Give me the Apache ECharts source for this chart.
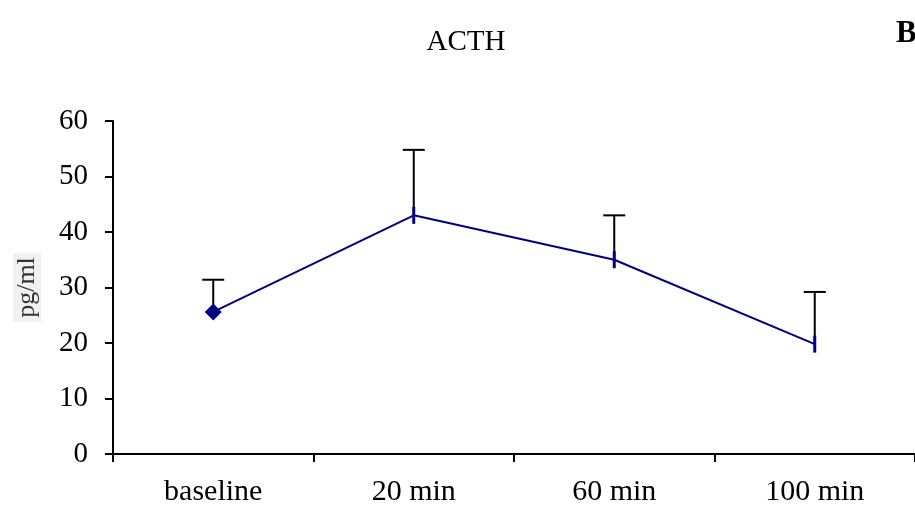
<!DOCTYPE html>
<html>
<head>
<meta charset="utf-8">
<script src="https://cdn.jsdelivr.net/npm/echarts@6/dist/echarts.min.js"></script>
<style>
  html, body { margin: 0; padding: 0; background: #fff; }
  #chart { width: 915px; height: 510px; }
</style>
</head>
<body>
<div id="chart"></div>
<script>
// data
const categories = ['baseline', '20 min', '60 min', '100 min']
const acthMean = [25.6, 43, 35, 19.8]
const acthErrUp = [5.8, 11.8, 8, 9.4] // upper error bar length
const yTicks = { min: 0, max: 60, interval: 10 }

const serif = '"Liberation Serif", "DejaVu Serif", serif'
const navy = '#000080'

const chart = echarts.init(document.getElementById('chart'))

// first point diamond, the others a short vertical dash
const lineData = acthMean.map((v, i) => ({
  value: v,
  symbol: i === 0 ? 'diamond' : 'rect',
  symbolSize: i === 0 ? [17, 17] : [3, 17]
}))

const errData = acthMean.map((v, i) => [i, v, v + acthErrUp[i]])

chart.setOption({
  animation: false,
  title: [
    {
      text: 'ACTH',
      left: 461,
      top: 23,
      textAlign: 'center',
      textStyle: { fontFamily: serif, fontSize: 29, fontWeight: 'normal', color: '#000' }
    },
    {
      text: 'B',
      left: 891,
      top: 13,
      textStyle: { fontFamily: serif, fontSize: 31, fontWeight: 'bold', color: '#000' }
    }
  ],
  grid: { left: 113, top: 121, width: 808, height: 333, containLabel: false },
  xAxis: {
    type: 'category',
    data: categories,
    boundaryGap: true,
    axisLine: { lineStyle: { color: '#000', width: 2 } },
    axisTick: { show: true, length: 8, lineStyle: { color: '#000', width: 2 } },
    axisLabel: { fontFamily: serif, fontSize: 30, color: '#000', margin: 23 }
  },
  yAxis: {
    type: 'value',
    min: yTicks.min,
    max: yTicks.max,
    interval: yTicks.interval,
    name: 'pg/ml',
    nameLocation: 'middle',
    nameRotate: 90,
    nameGap: 72,
    nameTextStyle: {
      fontFamily: serif, fontSize: 26, color: '#333',
      backgroundColor: '#f1f1f1', padding: [1, 4, 1, 4]
    },
    splitLine: { show: false },
    axisLine: { show: true, lineStyle: { color: '#000', width: 2 } },
    axisTick: { show: true, length: 8, lineStyle: { color: '#000', width: 2 } },
    axisLabel: { fontFamily: serif, fontSize: 29, color: '#000', margin: 25 }
  },
  series: [
    {
      type: 'custom',
      z: 1,
      data: errData,
      renderItem: (params, api) => {
        const base = api.coord([api.value(0), api.value(1)])
        const top = api.coord([api.value(0), api.value(2)])
        const style = { stroke: '#000', lineWidth: 2 }
        return {
          type: 'group',
          children: [
            { type: 'line', shape: { x1: base[0], y1: base[1], x2: top[0], y2: top[1] }, style },
            { type: 'line', shape: { x1: top[0] - 11, y1: top[1], x2: top[0] + 11, y2: top[1] }, style }
          ]
        }
      }
    },
    {
      type: 'line',
      z: 3,
      data: lineData,
      lineStyle: { color: navy, width: 2 },
      itemStyle: { color: navy, borderWidth: 0 }
    }
  ]
})
</script>
</body>
</html>
